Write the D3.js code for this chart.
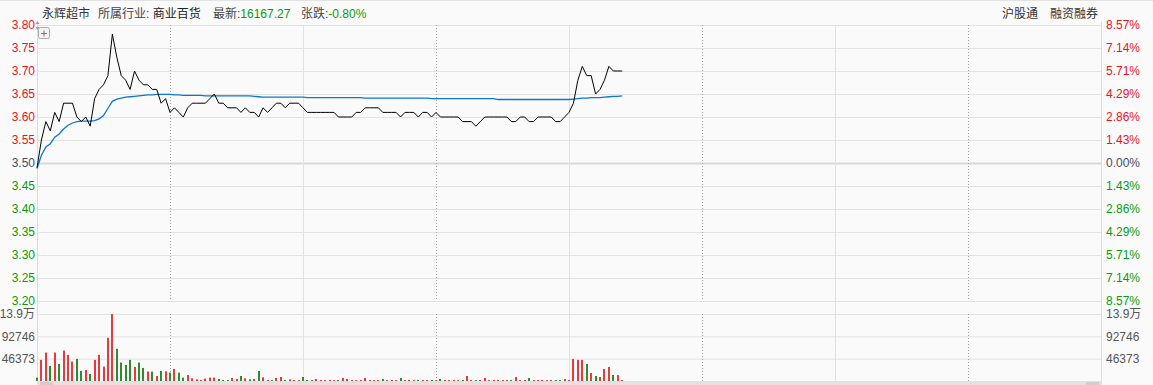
<!DOCTYPE html>
<html>
<head>
<meta charset="utf-8">
<script src="https://cdn.jsdelivr.net/npm/d3@7"></script>
<style>
body { margin: 0; background: #fafafa; }
svg { display: block; font-family: "Liberation Sans", Arial, "Noto Sans CJK SC", sans-serif; }
</style>
</head>
<body>
<div id="chart"></div>
<script>
// intraday minute chart, 永辉超市
let stockName = '永辉超市';
let industryLabel = '所属行业: ';
let industryName = '商业百货';
let latestLabel = '最新:';
let latestValue = '16167.27';
let changeLabel = '张跌:';
let changeValue = '-0.80%';
let rightTags = ['沪股通', '融资融券'];

let prevClose = 3.50;
let totalMinutes = 240;

// price axis ticks and the percent labels on the right
let priceTicks = [3.80, 3.75, 3.70, 3.65, 3.60, 3.55, 3.50, 3.45, 3.40, 3.35, 3.30, 3.25, 3.20];
let pctLabels = ['8.57%', '7.14%', '5.71%', '4.29%', '2.86%', '1.43%', '0.00%',
                 '1.43%', '2.86%', '4.29%', '5.71%', '7.14%', '8.57%'];

// volume axis
let volMax = 139119;
let volTicks = [46373, 92746, 139119];
let volLabels = ['46373', '92746', '13.9万'];

// half hour marks (minutes from open)
let timeMarks = [30, 60, 90, 120, 150, 180, 210];

// one value per minute
let prices = [
    3.49, 3.55, 3.59, 3.57, 3.61, 3.59, 3.63, 3.63, 3.63, 3.60,
    3.59, 3.60, 3.58, 3.64, 3.66, 3.67, 3.69, 3.78, 3.73, 3.69,
    3.68, 3.66, 3.70, 3.68, 3.67, 3.67, 3.66, 3.66, 3.63, 3.64,
    3.61, 3.62, 3.61, 3.60, 3.62, 3.63, 3.63, 3.63, 3.63, 3.64,
    3.65, 3.63, 3.63, 3.62, 3.62, 3.62, 3.61, 3.62, 3.61, 3.61,
    3.60, 3.62, 3.61, 3.62, 3.63, 3.63, 3.62, 3.63, 3.63, 3.63,
    3.62, 3.61, 3.61, 3.61, 3.61, 3.61, 3.61, 3.61, 3.60, 3.60,
    3.60, 3.60, 3.61, 3.61, 3.62, 3.62, 3.62, 3.62, 3.61, 3.61,
    3.61, 3.61, 3.60, 3.61, 3.61, 3.61, 3.60, 3.61, 3.61, 3.60,
    3.61, 3.60, 3.60, 3.60, 3.60, 3.60, 3.59, 3.59, 3.59, 3.58,
    3.59, 3.60, 3.60, 3.60, 3.60, 3.60, 3.60, 3.59, 3.59, 3.60,
    3.60, 3.59, 3.59, 3.60, 3.60, 3.60, 3.60, 3.59, 3.59, 3.60,
    3.61, 3.63, 3.68, 3.71, 3.69, 3.69, 3.65, 3.66, 3.68, 3.71,
    3.70, 3.70, 3.70
];

let avgPrices = [
    3.488, 3.517, 3.535, 3.542, 3.556, 3.563, 3.574, 3.582, 3.587, 3.590,
    3.591, 3.591, 3.591, 3.592, 3.596, 3.603, 3.619, 3.634, 3.639, 3.641,
    3.643, 3.644, 3.645, 3.646, 3.647, 3.648, 3.648, 3.649, 3.649, 3.649,
    3.649, 3.648, 3.648, 3.647, 3.647, 3.647, 3.647, 3.647, 3.646, 3.646,
    3.646, 3.646, 3.646, 3.646, 3.646, 3.646, 3.646, 3.646, 3.646, 3.645,
    3.644, 3.643, 3.643, 3.643, 3.643, 3.643, 3.643, 3.643, 3.643, 3.643,
    3.643, 3.642, 3.642, 3.642, 3.642, 3.642, 3.642, 3.642, 3.642, 3.642,
    3.642, 3.642, 3.642, 3.642, 3.641, 3.641, 3.641, 3.641, 3.641, 3.641,
    3.641, 3.641, 3.641, 3.641, 3.641, 3.641, 3.641, 3.641, 3.641, 3.640,
    3.640, 3.640, 3.640, 3.640, 3.640, 3.640, 3.640, 3.640, 3.640, 3.640,
    3.640, 3.640, 3.640, 3.640, 3.638, 3.638, 3.638, 3.638, 3.638, 3.638,
    3.638, 3.638, 3.638, 3.638, 3.638, 3.638, 3.638, 3.638, 3.638, 3.638,
    3.638, 3.639, 3.640, 3.641, 3.641, 3.642, 3.642, 3.642, 3.643, 3.644,
    3.645, 3.645, 3.646
];

let volumes = [
    7000, 43800, 59100, 31300, 59100, 35500, 63300, 54300, 40300, 45900,
    20900, 23000, 14600, 43800, 54300, 29900, 89700, 139119, 66800, 38300,
    33400, 43800, 29200, 38300, 27100, 19500, 19500, 10400, 20900, 20200,
    17400, 25000, 17400, 7000, 12500, 5600, 3500, 2100, 4900, 7000,
    7000, 4200, 2100, 2100, 6300, 4200, 10400, 5600, 3500, 4200,
    20900, 7600, 2100, 1900, 6300, 8300, 2100, 3500, 2200, 1800,
    8300, 2100, 1900, 4200, 2000, 1800, 2200, 1900, 2100, 6300,
    4200, 2000, 1800, 2100, 6300, 2200, 1900, 2000, 4200, 1800,
    2100, 1900, 6300, 2000, 2200, 1800, 2100, 1900, 2000, 2200,
    1800, 4200, 2100, 1900, 2000, 1800, 2200, 10400, 2000, 1900,
    2100, 6300, 1800, 2000, 2200, 1900, 2100, 2000, 8300, 1800,
    2100, 6300, 1900, 2000, 2200, 1800, 2100, 1900, 2000, 4200,
    2100, 45900, 43800, 43800, 35500, 16700, 10400, 8300, 25000, 29200,
    12500, 12500, 2100
];

// 1 = up tick (red), 0 = down tick (green)
let volumeUp = [
    0, 1, 1, 0, 1, 0, 1, 1, 1, 0,
    0, 1, 0, 1, 1, 1, 1, 1, 0, 0,
    0, 0, 1, 0, 0, 1, 0, 1, 0, 1,
    0, 1, 0, 0, 1, 1, 1, 1, 1, 1,
    1, 0, 0, 0, 1, 1, 0, 1, 0, 1,
    0, 1, 1, 0, 1, 1, 0, 1, 1, 1,
    0, 0, 1, 1, 1, 1, 1, 1, 0, 1,
    1, 1, 1, 1, 1, 1, 1, 1, 0, 1,
    1, 1, 0, 1, 1, 1, 0, 1, 1, 0,
    1, 0, 1, 1, 1, 1, 0, 1, 1, 0,
    1, 1, 1, 1, 1, 1, 1, 0, 1, 1,
    1, 0, 1, 1, 1, 1, 1, 0, 0, 1,
    1, 1, 1, 1, 0, 1, 0, 1, 1, 1,
    0, 1, 1
];

let svgwidth = 1153;
let svgheight = 385;
let plot = {left: 37, right: 1101, top: 25, bottom: 301};
let volPlot = {top: 314, bottom: 381};

let red = '#e8141e';
let green = '#0a9a0a';
let gridColor = '#e2e2e2';

let svg = d3.select('#chart').append('svg')
    .attr('width', svgwidth)
    .attr('height', svgheight);

let xscale = d3.scaleLinear().domain([0, totalMinutes]).range([plot.left, plot.right]);
let yscale = d3.scaleLinear().domain([3.20, 3.80]).range([plot.bottom, plot.top]);
let vscale = d3.scaleLinear().domain([0, volMax]).range([volPlot.bottom, volPlot.top]);

function tickColor(d) {
    if (d > prevClose + 1e-9) return red;
    if (d < prevClose - 1e-9) return green;
    return '#4a4a5c';
}

// top border
svg.append('rect').attr('x', 0).attr('y', 0).attr('width', svgwidth).attr('height', 1).attr('fill', '#e2e2e2');

// header
let header = svg.append('g').attr('font-size', 12);
header.append('text').attr('x', 42).attr('y', 18).attr('fill', '#333').text(stockName);
let ind = header.append('text').attr('x', 98).attr('y', 18);
ind.append('tspan').attr('fill', '#444').text(industryLabel);
ind.append('tspan').attr('fill', '#222').text(industryName);
let latest = header.append('text').attr('x', 213).attr('y', 18);
latest.append('tspan').attr('fill', '#444').text(latestLabel);
latest.append('tspan').attr('fill', green).text(latestValue);
let chg = header.append('text').attr('x', 301).attr('y', 18);
chg.append('tspan').attr('fill', '#444').text(changeLabel);
chg.append('tspan').attr('fill', green).text(changeValue);

header.append('text').attr('x', 1002).attr('y', 18).attr('fill', '#333').text(rightTags[0]);
header.append('text').attr('x', 1050).attr('y', 18).attr('fill', '#333').text(rightTags[1]);

// horizontal grid, price panel
let pgrid = svg.append('g')
    .attr('transform', `translate(${plot.left},0)`)
    .call(d3.axisRight(yscale).tickValues(priceTicks).tickSize(plot.right - plot.left).tickFormat(''));
pgrid.select('.domain').remove();
pgrid.selectAll('line')
    .attr('stroke', d => d === prevClose ? '#d8d8d8' : gridColor)
    .attr('stroke-width', d => d === prevClose ? 2 : 1);

// horizontal grid, volume panel
let vgrid = svg.append('g')
    .attr('transform', `translate(${plot.left},0)`)
    .call(d3.axisRight(vscale).tickValues(volTicks).tickSize(plot.right - plot.left).tickFormat(''));
vgrid.select('.domain').remove();
vgrid.selectAll('line').attr('stroke', gridColor);

// bottom band with scroll thumbs
svg.append('rect').attr('x', plot.left).attr('y', volPlot.bottom).attr('width', plot.right - plot.left + 1).attr('height', 4).attr('fill', '#e2e2e2');
svg.append('rect').attr('x', 40).attr('y', 382).attr('width', 13).attr('height', 3).attr('fill', '#cfcfcf');
svg.append('rect').attr('x', 1086).attr('y', 382).attr('width', 13).attr('height', 3).attr('fill', '#cfcfcf');

// vertical time lines
timeMarks.forEach(function(m) {
    let x = Math.round(xscale(m)) + 0.5;
    if ((m / 30) % 2 === 1) {
        [[plot.top, plot.bottom], [volPlot.top, volPlot.bottom]].forEach(function(seg) {
            svg.append('line')
                .attr('x1', x).attr('x2', x)
                .attr('y1', seg[0]).attr('y2', seg[1])
                .attr('stroke', '#a0a0a0')
                .attr('stroke-dasharray', '1,2');
        });
    } else {
        svg.append('line')
            .attr('x1', x).attr('x2', x)
            .attr('y1', plot.top).attr('y2', volPlot.bottom)
            .attr('stroke', gridColor);
    }
});

// panel borders
[plot.left, plot.right].forEach(function(x) {
    svg.append('line')
        .attr('x1', x + 0.5).attr('x2', x + 0.5)
        .attr('y1', 22).attr('y2', svgheight)
        .attr('stroke', '#dcdcdc');
});

// left price labels
let leftAxis = svg.append('g')
    .attr('transform', `translate(${plot.left},0)`)
    .call(d3.axisLeft(yscale).tickValues(priceTicks).tickSize(0).tickPadding(2).tickFormat(d3.format('.2f')));
leftAxis.select('.domain').remove();
leftAxis.attr('font-size', 12).attr('font-family', null);
leftAxis.selectAll('text').attr('fill', d => tickColor(d));

// right percent labels
let rightAxis = svg.append('g')
    .attr('transform', `translate(${plot.right},0)`)
    .call(d3.axisRight(yscale).tickValues(priceTicks).tickSize(0).tickPadding(5).tickFormat((d, i) => pctLabels[i]));
rightAxis.select('.domain').remove();
rightAxis.attr('font-size', 12).attr('font-family', null);
rightAxis.selectAll('text').attr('fill', d => tickColor(d));

// volume labels both sides
let volLeft = svg.append('g')
    .attr('transform', `translate(${plot.left},0)`)
    .call(d3.axisLeft(vscale).tickValues(volTicks).tickSize(0).tickPadding(2).tickFormat((d, i) => volLabels[i]));
volLeft.select('.domain').remove();
volLeft.attr('font-size', 12).attr('font-family', null);
volLeft.selectAll('text').attr('fill', '#555');

let volRight = svg.append('g')
    .attr('transform', `translate(${plot.right},0)`)
    .call(d3.axisRight(vscale).tickValues(volTicks).tickSize(0).tickPadding(5).tickFormat((d, i) => volLabels[i]));
volRight.select('.domain').remove();
volRight.attr('font-size', 12).attr('font-family', null);
volRight.selectAll('text').attr('fill', '#555');

// small icons at top left
svg.append('path')
    .attr('d', 'M37.5,21 L39.5,24 L35.5,24 Z M37.5,30 L39.5,27 L35.5,27 Z')
    .attr('fill', '#999');
svg.append('rect')
    .attr('x', 38.5).attr('y', 27.5).attr('width', 11).attr('height', 11).attr('rx', 2)
    .attr('fill', '#f4f4f4').attr('stroke', '#aaa');
svg.append('path')
    .attr('d', 'M41,33.5 H47 M44,30.5 V36.5')
    .attr('stroke', '#777');

// volume bars
svg.append('g').selectAll('rect')
    .data(volumes)
    .enter()
    .append('rect')
    .attr('x', (d, i) => Math.round(xscale(i)) - 1)
    .attr('y', d => vscale(d))
    .attr('width', 2)
    .attr('height', d => volPlot.bottom - vscale(d))
    .attr('fill', (d, i) => volumeUp[i] ? '#e83a3a' : '#2e8b2e');

// average price line
svg.append('path')
    .datum(avgPrices)
    .attr('fill', 'none')
    .attr('stroke', '#0a78d2')
    .attr('stroke-width', 1.3)
    .attr('d', d3.line().x((d, i) => xscale(i)).y(d => yscale(d)));

// price line
svg.append('path')
    .datum(prices)
    .attr('fill', 'none')
    .attr('stroke', '#000')
    .attr('stroke-width', 1)
    .attr('d', d3.line().x((d, i) => xscale(i)).y(d => yscale(d)));
</script>
</body>
</html>
